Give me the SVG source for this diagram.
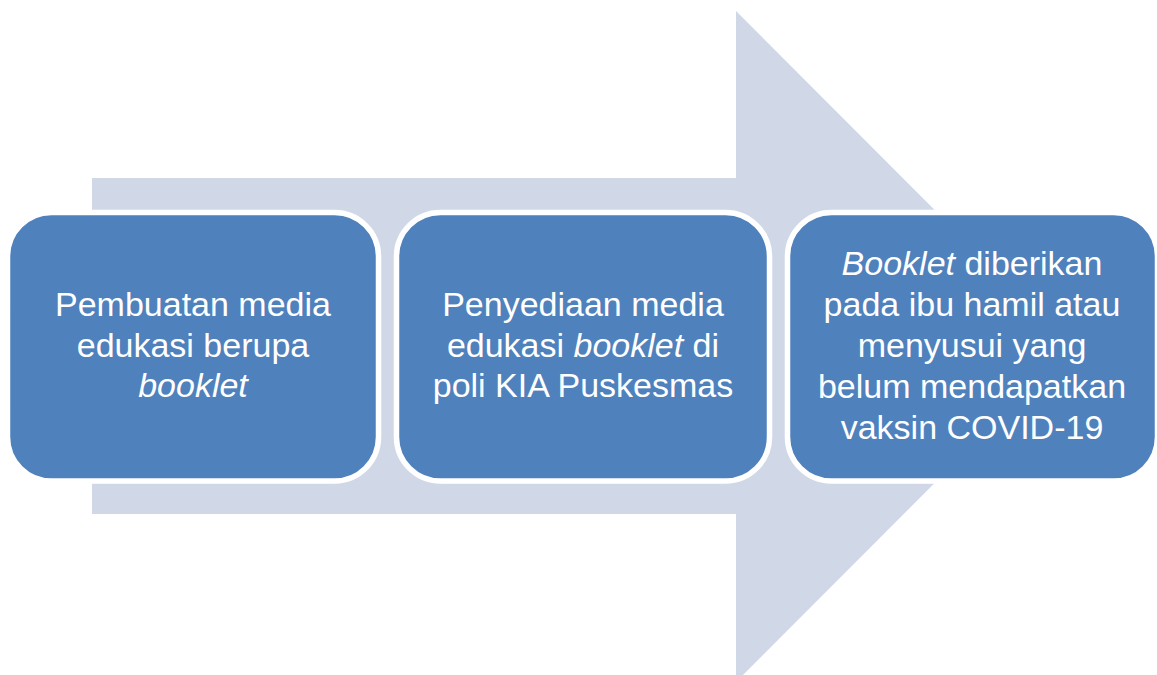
<svg xmlns="http://www.w3.org/2000/svg" width="1157" height="675" viewBox="0 0 1157 675">
  <style>
    .box { fill: #4F81BD; stroke: #FFFFFF; stroke-width: 5.5; }
    .lbl { font-family: "Liberation Sans", Arial, sans-serif; font-size: 34px; fill: #FFFFFF; text-anchor: middle; }
    .it { font-style: italic; }
  </style>
  <rect width="1157" height="675" fill="#FFFFFF"/>
  <g id="connectors">
    <path id="big-arrow" d="M92,178 L736,178 L736,11 L1071,346.5 L736,682 L736,514 L92,514 Z" fill="#D0D8E8"/>
  </g>
  <g id="node1">
    <rect class="box" x="7.5" y="212.5" width="371" height="268.5" rx="44" ry="44"/>
    <text class="lbl" x="193" y="316">Pembuatan media</text>
    <text class="lbl" x="193" y="357">edukasi berupa</text>
    <text class="lbl it" x="193" y="397">booklet</text>
  </g>
  <g id="node2">
    <rect class="box" x="396.5" y="212.5" width="373" height="268.5" rx="44" ry="44"/>
    <text class="lbl" x="583" y="316">Penyediaan media</text>
    <text class="lbl" x="583" y="357"><tspan>edukasi </tspan><tspan class="it">booklet</tspan><tspan> di</tspan></text>
    <text class="lbl" x="583" y="397">poli KIA Puskesmas</text>
  </g>
  <g id="node3">
    <rect class="box" x="787.5" y="212.5" width="370" height="268.5" rx="44" ry="44"/>
    <text class="lbl" x="972" y="275"><tspan class="it">Booklet</tspan><tspan> diberikan</tspan></text>
    <text class="lbl" x="972" y="316">pada ibu hamil atau</text>
    <text class="lbl" x="972" y="357">menyusui yang</text>
    <text class="lbl" x="972" y="398">belum mendapatkan</text>
    <text class="lbl" x="972" y="439">vaksin COVID-19</text>
  </g>
</svg>
